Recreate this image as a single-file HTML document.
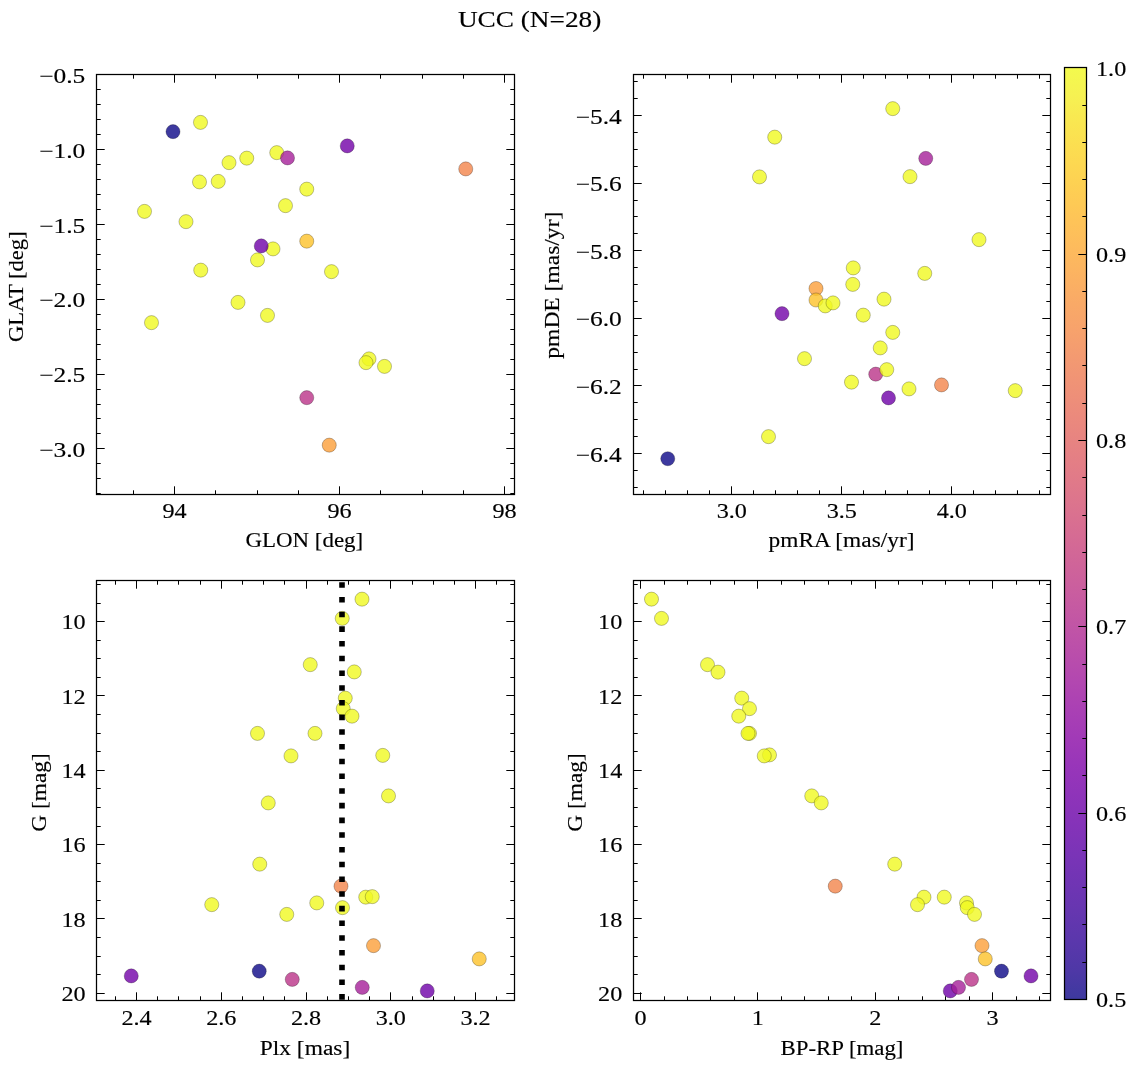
<!DOCTYPE html>
<html><head><meta charset="utf-8"><title>UCC (N=28)</title><style>html,body{margin:0;padding:0;background:#fff;overflow:hidden}svg{display:block;will-change:transform}</style></head><body>
<svg width="1136" height="1067" viewBox="0 0 1136 1067" font-family='"Liberation Serif", serif' fill="#000">
<style>text{stroke:#000;stroke-width:0.15px}</style>
<rect width="1136" height="1067" fill="#fff"/>
<g fill-opacity="0.8" stroke="#000" stroke-opacity="0.42" stroke-width="0.6">
<circle cx="200.5" cy="122.4" r="7.05" fill="#f0f921"/>
<circle cx="276.75" cy="152.65" r="7.05" fill="#f0f921"/>
<circle cx="229" cy="162.65" r="7.05" fill="#f0f921"/>
<circle cx="246.75" cy="158.15" r="7.05" fill="#f0f921"/>
<circle cx="199.5" cy="181.9" r="7.05" fill="#f0f921"/>
<circle cx="218.25" cy="181.4" r="7.05" fill="#f0f921"/>
<circle cx="306.75" cy="189.15" r="7.05" fill="#f0f921"/>
<circle cx="285.5" cy="205.65" r="7.05" fill="#f0f921"/>
<circle cx="144.5" cy="211.4" r="7.05" fill="#f0f921"/>
<circle cx="186" cy="221.65" r="7.05" fill="#f0f921"/>
<circle cx="273" cy="248.9" r="7.05" fill="#f0f921"/>
<circle cx="257.5" cy="259.9" r="7.05" fill="#f0f921"/>
<circle cx="200.75" cy="270.15" r="7.05" fill="#f0f921"/>
<circle cx="331.5" cy="271.65" r="7.05" fill="#f0f921"/>
<circle cx="238" cy="302.4" r="7.05" fill="#f0f921"/>
<circle cx="267.5" cy="315.4" r="7.05" fill="#f0f921"/>
<circle cx="151.5" cy="322.65" r="7.05" fill="#f0f921"/>
<circle cx="369" cy="358.9" r="7.05" fill="#f0f921"/>
<circle cx="366" cy="362.65" r="7.05" fill="#f0f921"/>
<circle cx="384.5" cy="366.4" r="7.05" fill="#f0f921"/>
<circle cx="173" cy="131.65" r="7.05" fill="#0d0887"/>
<circle cx="347.25" cy="145.9" r="7.05" fill="#7201a8"/>
<circle cx="261.25" cy="245.9" r="7.05" fill="#6e00a8"/>
<circle cx="465.75" cy="168.9" r="7.05" fill="#f2844b"/>
<circle cx="306.75" cy="397.65" r="7.05" fill="#ba3388"/>
<circle cx="329.25" cy="445.15" r="7.05" fill="#fb9f3a"/>
<circle cx="306.75" cy="241.15" r="7.05" fill="#fdc229"/>
<circle cx="287.5" cy="157.9" r="7.05" fill="#a51f99"/>
</g>
<g stroke="#000" stroke-linecap="butt">
<line x1="133.5" y1="494.5" x2="133.5" y2="490.3" stroke-width="1.05"/>
<line x1="133.5" y1="74.5" x2="133.5" y2="78.7" stroke-width="1.05"/>
<line x1="215.5" y1="494.5" x2="215.5" y2="490.3" stroke-width="1.05"/>
<line x1="215.5" y1="74.5" x2="215.5" y2="78.7" stroke-width="1.05"/>
<line x1="257.5" y1="494.5" x2="257.5" y2="490.3" stroke-width="1.05"/>
<line x1="257.5" y1="74.5" x2="257.5" y2="78.7" stroke-width="1.05"/>
<line x1="298.5" y1="494.5" x2="298.5" y2="490.3" stroke-width="1.05"/>
<line x1="298.5" y1="74.5" x2="298.5" y2="78.7" stroke-width="1.05"/>
<line x1="380.5" y1="494.5" x2="380.5" y2="490.3" stroke-width="1.05"/>
<line x1="380.5" y1="74.5" x2="380.5" y2="78.7" stroke-width="1.05"/>
<line x1="422.5" y1="494.5" x2="422.5" y2="490.3" stroke-width="1.05"/>
<line x1="422.5" y1="74.5" x2="422.5" y2="78.7" stroke-width="1.05"/>
<line x1="463.5" y1="494.5" x2="463.5" y2="490.3" stroke-width="1.05"/>
<line x1="463.5" y1="74.5" x2="463.5" y2="78.7" stroke-width="1.05"/>
<line x1="174.5" y1="494.5" x2="174.5" y2="486.3" stroke-width="1.05"/>
<line x1="174.5" y1="74.5" x2="174.5" y2="82.7" stroke-width="1.05"/>
<line x1="339.5" y1="494.5" x2="339.5" y2="486.3" stroke-width="1.05"/>
<line x1="339.5" y1="74.5" x2="339.5" y2="82.7" stroke-width="1.05"/>
<line x1="504.5" y1="494.5" x2="504.5" y2="486.3" stroke-width="1.05"/>
<line x1="504.5" y1="74.5" x2="504.5" y2="82.7" stroke-width="1.05"/>
<line x1="96.5" y1="493.5" x2="100.7" y2="493.5" stroke-width="1.05"/>
<line x1="514.5" y1="493.5" x2="510.3" y2="493.5" stroke-width="1.05"/>
<line x1="96.5" y1="478.5" x2="100.7" y2="478.5" stroke-width="1.05"/>
<line x1="514.5" y1="478.5" x2="510.3" y2="478.5" stroke-width="1.05"/>
<line x1="96.5" y1="463.5" x2="100.7" y2="463.5" stroke-width="1.05"/>
<line x1="514.5" y1="463.5" x2="510.3" y2="463.5" stroke-width="1.05"/>
<line x1="96.5" y1="433.5" x2="100.7" y2="433.5" stroke-width="1.05"/>
<line x1="514.5" y1="433.5" x2="510.3" y2="433.5" stroke-width="1.05"/>
<line x1="96.5" y1="418.5" x2="100.7" y2="418.5" stroke-width="1.05"/>
<line x1="514.5" y1="418.5" x2="510.3" y2="418.5" stroke-width="1.05"/>
<line x1="96.5" y1="404.5" x2="100.7" y2="404.5" stroke-width="1.05"/>
<line x1="514.5" y1="404.5" x2="510.3" y2="404.5" stroke-width="1.05"/>
<line x1="96.5" y1="389.5" x2="100.7" y2="389.5" stroke-width="1.05"/>
<line x1="514.5" y1="389.5" x2="510.3" y2="389.5" stroke-width="1.05"/>
<line x1="96.5" y1="359.5" x2="100.7" y2="359.5" stroke-width="1.05"/>
<line x1="514.5" y1="359.5" x2="510.3" y2="359.5" stroke-width="1.05"/>
<line x1="96.5" y1="344.5" x2="100.7" y2="344.5" stroke-width="1.05"/>
<line x1="514.5" y1="344.5" x2="510.3" y2="344.5" stroke-width="1.05"/>
<line x1="96.5" y1="329.5" x2="100.7" y2="329.5" stroke-width="1.05"/>
<line x1="514.5" y1="329.5" x2="510.3" y2="329.5" stroke-width="1.05"/>
<line x1="96.5" y1="314.5" x2="100.7" y2="314.5" stroke-width="1.05"/>
<line x1="514.5" y1="314.5" x2="510.3" y2="314.5" stroke-width="1.05"/>
<line x1="96.5" y1="284.5" x2="100.7" y2="284.5" stroke-width="1.05"/>
<line x1="514.5" y1="284.5" x2="510.3" y2="284.5" stroke-width="1.05"/>
<line x1="96.5" y1="269.5" x2="100.7" y2="269.5" stroke-width="1.05"/>
<line x1="514.5" y1="269.5" x2="510.3" y2="269.5" stroke-width="1.05"/>
<line x1="96.5" y1="254.5" x2="100.7" y2="254.5" stroke-width="1.05"/>
<line x1="514.5" y1="254.5" x2="510.3" y2="254.5" stroke-width="1.05"/>
<line x1="96.5" y1="239.5" x2="100.7" y2="239.5" stroke-width="1.05"/>
<line x1="514.5" y1="239.5" x2="510.3" y2="239.5" stroke-width="1.05"/>
<line x1="96.5" y1="209.5" x2="100.7" y2="209.5" stroke-width="1.05"/>
<line x1="514.5" y1="209.5" x2="510.3" y2="209.5" stroke-width="1.05"/>
<line x1="96.5" y1="194.5" x2="100.7" y2="194.5" stroke-width="1.05"/>
<line x1="514.5" y1="194.5" x2="510.3" y2="194.5" stroke-width="1.05"/>
<line x1="96.5" y1="179.5" x2="100.7" y2="179.5" stroke-width="1.05"/>
<line x1="514.5" y1="179.5" x2="510.3" y2="179.5" stroke-width="1.05"/>
<line x1="96.5" y1="164.5" x2="100.7" y2="164.5" stroke-width="1.05"/>
<line x1="514.5" y1="164.5" x2="510.3" y2="164.5" stroke-width="1.05"/>
<line x1="96.5" y1="134.5" x2="100.7" y2="134.5" stroke-width="1.05"/>
<line x1="514.5" y1="134.5" x2="510.3" y2="134.5" stroke-width="1.05"/>
<line x1="96.5" y1="119.5" x2="100.7" y2="119.5" stroke-width="1.05"/>
<line x1="514.5" y1="119.5" x2="510.3" y2="119.5" stroke-width="1.05"/>
<line x1="96.5" y1="104.5" x2="100.7" y2="104.5" stroke-width="1.05"/>
<line x1="514.5" y1="104.5" x2="510.3" y2="104.5" stroke-width="1.05"/>
<line x1="96.5" y1="89.5" x2="100.7" y2="89.5" stroke-width="1.05"/>
<line x1="514.5" y1="89.5" x2="510.3" y2="89.5" stroke-width="1.05"/>
<line x1="96.5" y1="448.5" x2="104.7" y2="448.5" stroke-width="1.05"/>
<line x1="514.5" y1="448.5" x2="506.3" y2="448.5" stroke-width="1.05"/>
<line x1="96.5" y1="374.5" x2="104.7" y2="374.5" stroke-width="1.05"/>
<line x1="514.5" y1="374.5" x2="506.3" y2="374.5" stroke-width="1.05"/>
<line x1="96.5" y1="299.5" x2="104.7" y2="299.5" stroke-width="1.05"/>
<line x1="514.5" y1="299.5" x2="506.3" y2="299.5" stroke-width="1.05"/>
<line x1="96.5" y1="224.5" x2="104.7" y2="224.5" stroke-width="1.05"/>
<line x1="514.5" y1="224.5" x2="506.3" y2="224.5" stroke-width="1.05"/>
<line x1="96.5" y1="149.5" x2="104.7" y2="149.5" stroke-width="1.05"/>
<line x1="514.5" y1="149.5" x2="506.3" y2="149.5" stroke-width="1.05"/>
<line x1="96.5" y1="74.5" x2="104.7" y2="74.5" stroke-width="1.05"/>
<line x1="514.5" y1="74.5" x2="506.3" y2="74.5" stroke-width="1.05"/>
</g>
<text x="174.6" y="517.7" text-anchor="middle" font-size="21.0" textLength="24.18" lengthAdjust="spacingAndGlyphs">94</text>
<text x="339.6" y="517.7" text-anchor="middle" font-size="21.0" textLength="24.18" lengthAdjust="spacingAndGlyphs">96</text>
<text x="504.6" y="517.7" text-anchor="middle" font-size="21.0" textLength="24.18" lengthAdjust="spacingAndGlyphs">98</text>
<text x="85.3" y="456.9" text-anchor="end" font-size="21.0" textLength="46.14" lengthAdjust="spacingAndGlyphs">−3.0</text>
<text x="85.3" y="382.1" text-anchor="end" font-size="21.0" textLength="46.14" lengthAdjust="spacingAndGlyphs">−2.5</text>
<text x="85.3" y="307.3" text-anchor="end" font-size="21.0" textLength="46.14" lengthAdjust="spacingAndGlyphs">−2.0</text>
<text x="85.3" y="232.5" text-anchor="end" font-size="21.0" textLength="46.14" lengthAdjust="spacingAndGlyphs">−1.5</text>
<text x="85.3" y="157.7" text-anchor="end" font-size="21.0" textLength="46.14" lengthAdjust="spacingAndGlyphs">−1.0</text>
<text x="85.3" y="82.9" text-anchor="end" font-size="21.0" textLength="46.14" lengthAdjust="spacingAndGlyphs">−0.5</text>
<rect x="96.5" y="74.5" width="418" height="420" fill="none" stroke="#000" stroke-width="1.25"/>
<g fill-opacity="0.8" stroke="#000" stroke-opacity="0.42" stroke-width="0.6">
<circle cx="892.75" cy="108.65" r="7.05" fill="#f0f921"/>
<circle cx="774.75" cy="137.15" r="7.05" fill="#f0f921"/>
<circle cx="759.5" cy="176.9" r="7.05" fill="#f0f921"/>
<circle cx="910" cy="176.65" r="7.05" fill="#f0f921"/>
<circle cx="979" cy="239.65" r="7.05" fill="#f0f921"/>
<circle cx="853.25" cy="267.9" r="7.05" fill="#f0f921"/>
<circle cx="924.75" cy="273.4" r="7.05" fill="#f0f921"/>
<circle cx="852.75" cy="284.4" r="7.05" fill="#f0f921"/>
<circle cx="884" cy="299.15" r="7.05" fill="#f0f921"/>
<circle cx="863.25" cy="315.15" r="7.05" fill="#f0f921"/>
<circle cx="892.75" cy="332.4" r="7.05" fill="#f0f921"/>
<circle cx="880.25" cy="347.9" r="7.05" fill="#f0f921"/>
<circle cx="804.5" cy="358.65" r="7.05" fill="#f0f921"/>
<circle cx="851.5" cy="382.15" r="7.05" fill="#f0f921"/>
<circle cx="909" cy="388.9" r="7.05" fill="#f0f921"/>
<circle cx="1015.25" cy="390.65" r="7.05" fill="#f0f921"/>
<circle cx="768.5" cy="436.65" r="7.05" fill="#f0f921"/>
<circle cx="816" cy="288.5" r="7.05" fill="#fb9f3a"/>
<circle cx="782" cy="313.65" r="7.05" fill="#7201a8"/>
<circle cx="875.75" cy="374.15" r="7.05" fill="#ba3388"/>
<circle cx="941.5" cy="384.9" r="7.05" fill="#f2844b"/>
<circle cx="888.5" cy="397.9" r="7.05" fill="#6e00a8"/>
<circle cx="667.75" cy="458.7" r="7.05" fill="#0d0887"/>
<circle cx="816" cy="300" r="7.05" fill="#fdc229"/>
<circle cx="925.75" cy="158.4" r="7.05" fill="#a51f99"/>
<circle cx="825.25" cy="305.9" r="7.05" fill="#f0f921"/>
<circle cx="886.75" cy="369.65" r="7.05" fill="#f0f921"/>
<circle cx="833" cy="302.9" r="7.05" fill="#f0f921"/>
</g>
<g stroke="#000" stroke-linecap="butt">
<line x1="643.5" y1="494.5" x2="643.5" y2="490.3" stroke-width="1.05"/>
<line x1="643.5" y1="74.5" x2="643.5" y2="78.7" stroke-width="1.05"/>
<line x1="665.5" y1="494.5" x2="665.5" y2="490.3" stroke-width="1.05"/>
<line x1="665.5" y1="74.5" x2="665.5" y2="78.7" stroke-width="1.05"/>
<line x1="687.5" y1="494.5" x2="687.5" y2="490.3" stroke-width="1.05"/>
<line x1="687.5" y1="74.5" x2="687.5" y2="78.7" stroke-width="1.05"/>
<line x1="709.5" y1="494.5" x2="709.5" y2="490.3" stroke-width="1.05"/>
<line x1="709.5" y1="74.5" x2="709.5" y2="78.7" stroke-width="1.05"/>
<line x1="753.5" y1="494.5" x2="753.5" y2="490.3" stroke-width="1.05"/>
<line x1="753.5" y1="74.5" x2="753.5" y2="78.7" stroke-width="1.05"/>
<line x1="775.5" y1="494.5" x2="775.5" y2="490.3" stroke-width="1.05"/>
<line x1="775.5" y1="74.5" x2="775.5" y2="78.7" stroke-width="1.05"/>
<line x1="797.5" y1="494.5" x2="797.5" y2="490.3" stroke-width="1.05"/>
<line x1="797.5" y1="74.5" x2="797.5" y2="78.7" stroke-width="1.05"/>
<line x1="819.5" y1="494.5" x2="819.5" y2="490.3" stroke-width="1.05"/>
<line x1="819.5" y1="74.5" x2="819.5" y2="78.7" stroke-width="1.05"/>
<line x1="863.5" y1="494.5" x2="863.5" y2="490.3" stroke-width="1.05"/>
<line x1="863.5" y1="74.5" x2="863.5" y2="78.7" stroke-width="1.05"/>
<line x1="885.5" y1="494.5" x2="885.5" y2="490.3" stroke-width="1.05"/>
<line x1="885.5" y1="74.5" x2="885.5" y2="78.7" stroke-width="1.05"/>
<line x1="907.5" y1="494.5" x2="907.5" y2="490.3" stroke-width="1.05"/>
<line x1="907.5" y1="74.5" x2="907.5" y2="78.7" stroke-width="1.05"/>
<line x1="929.5" y1="494.5" x2="929.5" y2="490.3" stroke-width="1.05"/>
<line x1="929.5" y1="74.5" x2="929.5" y2="78.7" stroke-width="1.05"/>
<line x1="973.5" y1="494.5" x2="973.5" y2="490.3" stroke-width="1.05"/>
<line x1="973.5" y1="74.5" x2="973.5" y2="78.7" stroke-width="1.05"/>
<line x1="995.5" y1="494.5" x2="995.5" y2="490.3" stroke-width="1.05"/>
<line x1="995.5" y1="74.5" x2="995.5" y2="78.7" stroke-width="1.05"/>
<line x1="1017.5" y1="494.5" x2="1017.5" y2="490.3" stroke-width="1.05"/>
<line x1="1017.5" y1="74.5" x2="1017.5" y2="78.7" stroke-width="1.05"/>
<line x1="1039.5" y1="494.5" x2="1039.5" y2="490.3" stroke-width="1.05"/>
<line x1="1039.5" y1="74.5" x2="1039.5" y2="78.7" stroke-width="1.05"/>
<line x1="731.5" y1="494.5" x2="731.5" y2="486.3" stroke-width="1.05"/>
<line x1="731.5" y1="74.5" x2="731.5" y2="82.7" stroke-width="1.05"/>
<line x1="841.5" y1="494.5" x2="841.5" y2="486.3" stroke-width="1.05"/>
<line x1="841.5" y1="74.5" x2="841.5" y2="82.7" stroke-width="1.05"/>
<line x1="951.5" y1="494.5" x2="951.5" y2="486.3" stroke-width="1.05"/>
<line x1="951.5" y1="74.5" x2="951.5" y2="82.7" stroke-width="1.05"/>
<line x1="633.5" y1="487.5" x2="637.7" y2="487.5" stroke-width="1.05"/>
<line x1="1050.5" y1="487.5" x2="1046.3" y2="487.5" stroke-width="1.05"/>
<line x1="633.5" y1="470.5" x2="637.7" y2="470.5" stroke-width="1.05"/>
<line x1="1050.5" y1="470.5" x2="1046.3" y2="470.5" stroke-width="1.05"/>
<line x1="633.5" y1="436.5" x2="637.7" y2="436.5" stroke-width="1.05"/>
<line x1="1050.5" y1="436.5" x2="1046.3" y2="436.5" stroke-width="1.05"/>
<line x1="633.5" y1="419.5" x2="637.7" y2="419.5" stroke-width="1.05"/>
<line x1="1050.5" y1="419.5" x2="1046.3" y2="419.5" stroke-width="1.05"/>
<line x1="633.5" y1="402.5" x2="637.7" y2="402.5" stroke-width="1.05"/>
<line x1="1050.5" y1="402.5" x2="1046.3" y2="402.5" stroke-width="1.05"/>
<line x1="633.5" y1="369.5" x2="637.7" y2="369.5" stroke-width="1.05"/>
<line x1="1050.5" y1="369.5" x2="1046.3" y2="369.5" stroke-width="1.05"/>
<line x1="633.5" y1="352.5" x2="637.7" y2="352.5" stroke-width="1.05"/>
<line x1="1050.5" y1="352.5" x2="1046.3" y2="352.5" stroke-width="1.05"/>
<line x1="633.5" y1="335.5" x2="637.7" y2="335.5" stroke-width="1.05"/>
<line x1="1050.5" y1="335.5" x2="1046.3" y2="335.5" stroke-width="1.05"/>
<line x1="633.5" y1="301.5" x2="637.7" y2="301.5" stroke-width="1.05"/>
<line x1="1050.5" y1="301.5" x2="1046.3" y2="301.5" stroke-width="1.05"/>
<line x1="633.5" y1="284.5" x2="637.7" y2="284.5" stroke-width="1.05"/>
<line x1="1050.5" y1="284.5" x2="1046.3" y2="284.5" stroke-width="1.05"/>
<line x1="633.5" y1="267.5" x2="637.7" y2="267.5" stroke-width="1.05"/>
<line x1="1050.5" y1="267.5" x2="1046.3" y2="267.5" stroke-width="1.05"/>
<line x1="633.5" y1="233.5" x2="637.7" y2="233.5" stroke-width="1.05"/>
<line x1="1050.5" y1="233.5" x2="1046.3" y2="233.5" stroke-width="1.05"/>
<line x1="633.5" y1="216.5" x2="637.7" y2="216.5" stroke-width="1.05"/>
<line x1="1050.5" y1="216.5" x2="1046.3" y2="216.5" stroke-width="1.05"/>
<line x1="633.5" y1="200.5" x2="637.7" y2="200.5" stroke-width="1.05"/>
<line x1="1050.5" y1="200.5" x2="1046.3" y2="200.5" stroke-width="1.05"/>
<line x1="633.5" y1="166.5" x2="637.7" y2="166.5" stroke-width="1.05"/>
<line x1="1050.5" y1="166.5" x2="1046.3" y2="166.5" stroke-width="1.05"/>
<line x1="633.5" y1="149.5" x2="637.7" y2="149.5" stroke-width="1.05"/>
<line x1="1050.5" y1="149.5" x2="1046.3" y2="149.5" stroke-width="1.05"/>
<line x1="633.5" y1="132.5" x2="637.7" y2="132.5" stroke-width="1.05"/>
<line x1="1050.5" y1="132.5" x2="1046.3" y2="132.5" stroke-width="1.05"/>
<line x1="633.5" y1="98.5" x2="637.7" y2="98.5" stroke-width="1.05"/>
<line x1="1050.5" y1="98.5" x2="1046.3" y2="98.5" stroke-width="1.05"/>
<line x1="633.5" y1="81.5" x2="637.7" y2="81.5" stroke-width="1.05"/>
<line x1="1050.5" y1="81.5" x2="1046.3" y2="81.5" stroke-width="1.05"/>
<line x1="633.5" y1="453.5" x2="641.7" y2="453.5" stroke-width="1.05"/>
<line x1="1050.5" y1="453.5" x2="1042.3" y2="453.5" stroke-width="1.05"/>
<line x1="633.5" y1="385.5" x2="641.7" y2="385.5" stroke-width="1.05"/>
<line x1="1050.5" y1="385.5" x2="1042.3" y2="385.5" stroke-width="1.05"/>
<line x1="633.5" y1="318.5" x2="641.7" y2="318.5" stroke-width="1.05"/>
<line x1="1050.5" y1="318.5" x2="1042.3" y2="318.5" stroke-width="1.05"/>
<line x1="633.5" y1="250.5" x2="641.7" y2="250.5" stroke-width="1.05"/>
<line x1="1050.5" y1="250.5" x2="1042.3" y2="250.5" stroke-width="1.05"/>
<line x1="633.5" y1="183.5" x2="641.7" y2="183.5" stroke-width="1.05"/>
<line x1="1050.5" y1="183.5" x2="1042.3" y2="183.5" stroke-width="1.05"/>
<line x1="633.5" y1="115.5" x2="641.7" y2="115.5" stroke-width="1.05"/>
<line x1="1050.5" y1="115.5" x2="1042.3" y2="115.5" stroke-width="1.05"/>
</g>
<text x="731.8" y="518" text-anchor="middle" font-size="21.0" textLength="30.22" lengthAdjust="spacingAndGlyphs">3.0</text>
<text x="841.8" y="518" text-anchor="middle" font-size="21.0" textLength="30.22" lengthAdjust="spacingAndGlyphs">3.5</text>
<text x="951.8" y="518" text-anchor="middle" font-size="21.0" textLength="30.22" lengthAdjust="spacingAndGlyphs">4.0</text>
<text x="621.8" y="461.5" text-anchor="end" font-size="21.0" textLength="46.14" lengthAdjust="spacingAndGlyphs">−6.4</text>
<text x="621.8" y="393.9" text-anchor="end" font-size="21.0" textLength="46.14" lengthAdjust="spacingAndGlyphs">−6.2</text>
<text x="621.8" y="326.3" text-anchor="end" font-size="21.0" textLength="46.14" lengthAdjust="spacingAndGlyphs">−6.0</text>
<text x="621.8" y="258.7" text-anchor="end" font-size="21.0" textLength="46.14" lengthAdjust="spacingAndGlyphs">−5.8</text>
<text x="621.8" y="191.1" text-anchor="end" font-size="21.0" textLength="46.14" lengthAdjust="spacingAndGlyphs">−5.6</text>
<text x="621.8" y="123.5" text-anchor="end" font-size="21.0" textLength="46.14" lengthAdjust="spacingAndGlyphs">−5.4</text>
<rect x="633.5" y="74.5" width="417" height="420" fill="none" stroke="#000" stroke-width="1.25"/>
<g fill-opacity="0.8" stroke="#000" stroke-opacity="0.42" stroke-width="0.6">
<circle cx="362" cy="599.15" r="7.05" fill="#f0f921"/>
<circle cx="342.25" cy="618.4" r="7.05" fill="#f0f921"/>
<circle cx="310.25" cy="664.65" r="7.05" fill="#f0f921"/>
<circle cx="354.25" cy="671.9" r="7.05" fill="#f0f921"/>
<circle cx="345.25" cy="698.15" r="7.05" fill="#f0f921"/>
<circle cx="343.25" cy="708.65" r="7.05" fill="#f0f921"/>
<circle cx="352" cy="716.15" r="7.05" fill="#f0f921"/>
<circle cx="257.5" cy="733.4" r="7.05" fill="#f0f921"/>
<circle cx="315" cy="733.4" r="7.05" fill="#f0f921"/>
<circle cx="291" cy="755.9" r="7.05" fill="#f0f921"/>
<circle cx="382.75" cy="755.4" r="7.05" fill="#f0f921"/>
<circle cx="268.25" cy="802.9" r="7.05" fill="#f0f921"/>
<circle cx="388.5" cy="795.9" r="7.05" fill="#f0f921"/>
<circle cx="259.75" cy="864.15" r="7.05" fill="#f0f921"/>
<circle cx="211.75" cy="904.65" r="7.05" fill="#f0f921"/>
<circle cx="286.75" cy="914.4" r="7.05" fill="#f0f921"/>
<circle cx="316.75" cy="902.9" r="7.05" fill="#f0f921"/>
<circle cx="342.5" cy="907.65" r="7.05" fill="#f0f921"/>
<circle cx="365.75" cy="897.15" r="7.05" fill="#f0f921"/>
<circle cx="372.25" cy="896.65" r="7.05" fill="#f0f921"/>
<circle cx="341" cy="886.15" r="7.05" fill="#f2844b"/>
<circle cx="373.5" cy="945.65" r="7.05" fill="#fb9f3a"/>
<circle cx="131.25" cy="975.9" r="7.05" fill="#7201a8"/>
<circle cx="259.25" cy="971.15" r="7.05" fill="#0d0887"/>
<circle cx="292.25" cy="979.4" r="7.05" fill="#ba3388"/>
<circle cx="427.25" cy="990.9" r="7.05" fill="#6e00a8"/>
<circle cx="479.25" cy="958.9" r="7.05" fill="#fdc229"/>
<circle cx="362.25" cy="987.4" r="7.05" fill="#a51f99"/>
</g>
<line x1="342" y1="999.65" x2="342" y2="580.5" stroke="#000" stroke-width="5.6" stroke-dasharray="5.55 9.16"/>
<g stroke="#000" stroke-linecap="butt">
<line x1="115.5" y1="1000.5" x2="115.5" y2="996.3" stroke-width="1.05"/>
<line x1="115.5" y1="580.5" x2="115.5" y2="584.7" stroke-width="1.05"/>
<line x1="157.5" y1="1000.5" x2="157.5" y2="996.3" stroke-width="1.05"/>
<line x1="157.5" y1="580.5" x2="157.5" y2="584.7" stroke-width="1.05"/>
<line x1="178.5" y1="1000.5" x2="178.5" y2="996.3" stroke-width="1.05"/>
<line x1="178.5" y1="580.5" x2="178.5" y2="584.7" stroke-width="1.05"/>
<line x1="200.5" y1="1000.5" x2="200.5" y2="996.3" stroke-width="1.05"/>
<line x1="200.5" y1="580.5" x2="200.5" y2="584.7" stroke-width="1.05"/>
<line x1="242.5" y1="1000.5" x2="242.5" y2="996.3" stroke-width="1.05"/>
<line x1="242.5" y1="580.5" x2="242.5" y2="584.7" stroke-width="1.05"/>
<line x1="263.5" y1="1000.5" x2="263.5" y2="996.3" stroke-width="1.05"/>
<line x1="263.5" y1="580.5" x2="263.5" y2="584.7" stroke-width="1.05"/>
<line x1="284.5" y1="1000.5" x2="284.5" y2="996.3" stroke-width="1.05"/>
<line x1="284.5" y1="580.5" x2="284.5" y2="584.7" stroke-width="1.05"/>
<line x1="327.5" y1="1000.5" x2="327.5" y2="996.3" stroke-width="1.05"/>
<line x1="327.5" y1="580.5" x2="327.5" y2="584.7" stroke-width="1.05"/>
<line x1="348.5" y1="1000.5" x2="348.5" y2="996.3" stroke-width="1.05"/>
<line x1="348.5" y1="580.5" x2="348.5" y2="584.7" stroke-width="1.05"/>
<line x1="369.5" y1="1000.5" x2="369.5" y2="996.3" stroke-width="1.05"/>
<line x1="369.5" y1="580.5" x2="369.5" y2="584.7" stroke-width="1.05"/>
<line x1="412.5" y1="1000.5" x2="412.5" y2="996.3" stroke-width="1.05"/>
<line x1="412.5" y1="580.5" x2="412.5" y2="584.7" stroke-width="1.05"/>
<line x1="433.5" y1="1000.5" x2="433.5" y2="996.3" stroke-width="1.05"/>
<line x1="433.5" y1="580.5" x2="433.5" y2="584.7" stroke-width="1.05"/>
<line x1="454.5" y1="1000.5" x2="454.5" y2="996.3" stroke-width="1.05"/>
<line x1="454.5" y1="580.5" x2="454.5" y2="584.7" stroke-width="1.05"/>
<line x1="496.5" y1="1000.5" x2="496.5" y2="996.3" stroke-width="1.05"/>
<line x1="496.5" y1="580.5" x2="496.5" y2="584.7" stroke-width="1.05"/>
<line x1="136.5" y1="1000.5" x2="136.5" y2="992.3" stroke-width="1.05"/>
<line x1="136.5" y1="580.5" x2="136.5" y2="588.7" stroke-width="1.05"/>
<line x1="221.5" y1="1000.5" x2="221.5" y2="992.3" stroke-width="1.05"/>
<line x1="221.5" y1="580.5" x2="221.5" y2="588.7" stroke-width="1.05"/>
<line x1="306.5" y1="1000.5" x2="306.5" y2="992.3" stroke-width="1.05"/>
<line x1="306.5" y1="580.5" x2="306.5" y2="588.7" stroke-width="1.05"/>
<line x1="390.5" y1="1000.5" x2="390.5" y2="992.3" stroke-width="1.05"/>
<line x1="390.5" y1="580.5" x2="390.5" y2="588.7" stroke-width="1.05"/>
<line x1="475.5" y1="1000.5" x2="475.5" y2="992.3" stroke-width="1.05"/>
<line x1="475.5" y1="580.5" x2="475.5" y2="588.7" stroke-width="1.05"/>
<line x1="96.5" y1="584.5" x2="100.7" y2="584.5" stroke-width="1.05"/>
<line x1="514.5" y1="584.5" x2="510.3" y2="584.5" stroke-width="1.05"/>
<line x1="96.5" y1="603.5" x2="100.7" y2="603.5" stroke-width="1.05"/>
<line x1="514.5" y1="603.5" x2="510.3" y2="603.5" stroke-width="1.05"/>
<line x1="96.5" y1="640.5" x2="100.7" y2="640.5" stroke-width="1.05"/>
<line x1="514.5" y1="640.5" x2="510.3" y2="640.5" stroke-width="1.05"/>
<line x1="96.5" y1="658.5" x2="100.7" y2="658.5" stroke-width="1.05"/>
<line x1="514.5" y1="658.5" x2="510.3" y2="658.5" stroke-width="1.05"/>
<line x1="96.5" y1="677.5" x2="100.7" y2="677.5" stroke-width="1.05"/>
<line x1="514.5" y1="677.5" x2="510.3" y2="677.5" stroke-width="1.05"/>
<line x1="96.5" y1="714.5" x2="100.7" y2="714.5" stroke-width="1.05"/>
<line x1="514.5" y1="714.5" x2="510.3" y2="714.5" stroke-width="1.05"/>
<line x1="96.5" y1="733.5" x2="100.7" y2="733.5" stroke-width="1.05"/>
<line x1="514.5" y1="733.5" x2="510.3" y2="733.5" stroke-width="1.05"/>
<line x1="96.5" y1="751.5" x2="100.7" y2="751.5" stroke-width="1.05"/>
<line x1="514.5" y1="751.5" x2="510.3" y2="751.5" stroke-width="1.05"/>
<line x1="96.5" y1="788.5" x2="100.7" y2="788.5" stroke-width="1.05"/>
<line x1="514.5" y1="788.5" x2="510.3" y2="788.5" stroke-width="1.05"/>
<line x1="96.5" y1="807.5" x2="100.7" y2="807.5" stroke-width="1.05"/>
<line x1="514.5" y1="807.5" x2="510.3" y2="807.5" stroke-width="1.05"/>
<line x1="96.5" y1="826.5" x2="100.7" y2="826.5" stroke-width="1.05"/>
<line x1="514.5" y1="826.5" x2="510.3" y2="826.5" stroke-width="1.05"/>
<line x1="96.5" y1="863.5" x2="100.7" y2="863.5" stroke-width="1.05"/>
<line x1="514.5" y1="863.5" x2="510.3" y2="863.5" stroke-width="1.05"/>
<line x1="96.5" y1="881.5" x2="100.7" y2="881.5" stroke-width="1.05"/>
<line x1="514.5" y1="881.5" x2="510.3" y2="881.5" stroke-width="1.05"/>
<line x1="96.5" y1="900.5" x2="100.7" y2="900.5" stroke-width="1.05"/>
<line x1="514.5" y1="900.5" x2="510.3" y2="900.5" stroke-width="1.05"/>
<line x1="96.5" y1="937.5" x2="100.7" y2="937.5" stroke-width="1.05"/>
<line x1="514.5" y1="937.5" x2="510.3" y2="937.5" stroke-width="1.05"/>
<line x1="96.5" y1="956.5" x2="100.7" y2="956.5" stroke-width="1.05"/>
<line x1="514.5" y1="956.5" x2="510.3" y2="956.5" stroke-width="1.05"/>
<line x1="96.5" y1="974.5" x2="100.7" y2="974.5" stroke-width="1.05"/>
<line x1="514.5" y1="974.5" x2="510.3" y2="974.5" stroke-width="1.05"/>
<line x1="96.5" y1="621.5" x2="104.7" y2="621.5" stroke-width="1.05"/>
<line x1="514.5" y1="621.5" x2="506.3" y2="621.5" stroke-width="1.05"/>
<line x1="96.5" y1="695.5" x2="104.7" y2="695.5" stroke-width="1.05"/>
<line x1="514.5" y1="695.5" x2="506.3" y2="695.5" stroke-width="1.05"/>
<line x1="96.5" y1="770.5" x2="104.7" y2="770.5" stroke-width="1.05"/>
<line x1="514.5" y1="770.5" x2="506.3" y2="770.5" stroke-width="1.05"/>
<line x1="96.5" y1="844.5" x2="104.7" y2="844.5" stroke-width="1.05"/>
<line x1="514.5" y1="844.5" x2="506.3" y2="844.5" stroke-width="1.05"/>
<line x1="96.5" y1="918.5" x2="104.7" y2="918.5" stroke-width="1.05"/>
<line x1="514.5" y1="918.5" x2="506.3" y2="918.5" stroke-width="1.05"/>
<line x1="96.5" y1="993.5" x2="104.7" y2="993.5" stroke-width="1.05"/>
<line x1="514.5" y1="993.5" x2="506.3" y2="993.5" stroke-width="1.05"/>
</g>
<text x="136.6" y="1024.8" text-anchor="middle" font-size="21.0" textLength="30.22" lengthAdjust="spacingAndGlyphs">2.4</text>
<text x="221.35" y="1024.8" text-anchor="middle" font-size="21.0" textLength="30.22" lengthAdjust="spacingAndGlyphs">2.6</text>
<text x="306.1" y="1024.8" text-anchor="middle" font-size="21.0" textLength="30.22" lengthAdjust="spacingAndGlyphs">2.8</text>
<text x="390.85" y="1024.8" text-anchor="middle" font-size="21.0" textLength="30.22" lengthAdjust="spacingAndGlyphs">3.0</text>
<text x="475.6" y="1024.8" text-anchor="middle" font-size="21.0" textLength="30.22" lengthAdjust="spacingAndGlyphs">3.2</text>
<text x="85.7" y="629.2" text-anchor="end" font-size="21.0" textLength="24.18" lengthAdjust="spacingAndGlyphs">10</text>
<text x="85.7" y="703.54" text-anchor="end" font-size="21.0" textLength="24.18" lengthAdjust="spacingAndGlyphs">12</text>
<text x="85.7" y="777.88" text-anchor="end" font-size="21.0" textLength="24.18" lengthAdjust="spacingAndGlyphs">14</text>
<text x="85.7" y="852.22" text-anchor="end" font-size="21.0" textLength="24.18" lengthAdjust="spacingAndGlyphs">16</text>
<text x="85.7" y="926.56" text-anchor="end" font-size="21.0" textLength="24.18" lengthAdjust="spacingAndGlyphs">18</text>
<text x="85.7" y="1000.9" text-anchor="end" font-size="21.0" textLength="24.18" lengthAdjust="spacingAndGlyphs">20</text>
<rect x="96.5" y="580.5" width="418" height="420" fill="none" stroke="#000" stroke-width="1.25"/>
<g fill-opacity="0.8" stroke="#000" stroke-opacity="0.42" stroke-width="0.6">
<circle cx="651.5" cy="599.15" r="7.05" fill="#f0f921"/>
<circle cx="661.5" cy="618.4" r="7.05" fill="#f0f921"/>
<circle cx="707.5" cy="664.65" r="7.05" fill="#f0f921"/>
<circle cx="718" cy="672.15" r="7.05" fill="#f0f921"/>
<circle cx="741.75" cy="698.15" r="7.05" fill="#f0f921"/>
<circle cx="749.5" cy="708.65" r="7.05" fill="#f0f921"/>
<circle cx="738.75" cy="716.15" r="7.05" fill="#f0f921"/>
<circle cx="749.5" cy="733.4" r="7.05" fill="#f0f921"/>
<circle cx="748" cy="733.4" r="7.05" fill="#f0f921"/>
<circle cx="769.5" cy="754.9" r="7.05" fill="#f0f921"/>
<circle cx="764.25" cy="755.9" r="7.05" fill="#f0f921"/>
<circle cx="811.75" cy="795.9" r="7.05" fill="#f0f921"/>
<circle cx="821.25" cy="802.9" r="7.05" fill="#f0f921"/>
<circle cx="894.75" cy="864.15" r="7.05" fill="#f0f921"/>
<circle cx="924" cy="897.15" r="7.05" fill="#f0f921"/>
<circle cx="917.5" cy="904.65" r="7.05" fill="#f0f921"/>
<circle cx="944.25" cy="897.15" r="7.05" fill="#f0f921"/>
<circle cx="966.5" cy="902.9" r="7.05" fill="#f0f921"/>
<circle cx="967.25" cy="907.65" r="7.05" fill="#f0f921"/>
<circle cx="974.5" cy="914.4" r="7.05" fill="#f0f921"/>
<circle cx="835.25" cy="886.15" r="7.05" fill="#f2844b"/>
<circle cx="982" cy="945.65" r="7.05" fill="#fb9f3a"/>
<circle cx="1001.5" cy="971.15" r="7.05" fill="#0d0887"/>
<circle cx="1031" cy="975.9" r="7.05" fill="#7201a8"/>
<circle cx="971.5" cy="979.4" r="7.05" fill="#ba3388"/>
<circle cx="950.25" cy="990.9" r="7.05" fill="#6e00a8"/>
<circle cx="985.25" cy="958.9" r="7.05" fill="#fdc229"/>
<circle cx="958.5" cy="987.4" r="7.05" fill="#a51f99"/>
</g>
<g stroke="#000" stroke-linecap="butt">
<line x1="664.5" y1="1000.5" x2="664.5" y2="996.3" stroke-width="1.05"/>
<line x1="664.5" y1="580.5" x2="664.5" y2="584.7" stroke-width="1.05"/>
<line x1="687.5" y1="1000.5" x2="687.5" y2="996.3" stroke-width="1.05"/>
<line x1="687.5" y1="580.5" x2="687.5" y2="584.7" stroke-width="1.05"/>
<line x1="710.5" y1="1000.5" x2="710.5" y2="996.3" stroke-width="1.05"/>
<line x1="710.5" y1="580.5" x2="710.5" y2="584.7" stroke-width="1.05"/>
<line x1="734.5" y1="1000.5" x2="734.5" y2="996.3" stroke-width="1.05"/>
<line x1="734.5" y1="580.5" x2="734.5" y2="584.7" stroke-width="1.05"/>
<line x1="781.5" y1="1000.5" x2="781.5" y2="996.3" stroke-width="1.05"/>
<line x1="781.5" y1="580.5" x2="781.5" y2="584.7" stroke-width="1.05"/>
<line x1="804.5" y1="1000.5" x2="804.5" y2="996.3" stroke-width="1.05"/>
<line x1="804.5" y1="580.5" x2="804.5" y2="584.7" stroke-width="1.05"/>
<line x1="828.5" y1="1000.5" x2="828.5" y2="996.3" stroke-width="1.05"/>
<line x1="828.5" y1="580.5" x2="828.5" y2="584.7" stroke-width="1.05"/>
<line x1="851.5" y1="1000.5" x2="851.5" y2="996.3" stroke-width="1.05"/>
<line x1="851.5" y1="580.5" x2="851.5" y2="584.7" stroke-width="1.05"/>
<line x1="898.5" y1="1000.5" x2="898.5" y2="996.3" stroke-width="1.05"/>
<line x1="898.5" y1="580.5" x2="898.5" y2="584.7" stroke-width="1.05"/>
<line x1="922.5" y1="1000.5" x2="922.5" y2="996.3" stroke-width="1.05"/>
<line x1="922.5" y1="580.5" x2="922.5" y2="584.7" stroke-width="1.05"/>
<line x1="945.5" y1="1000.5" x2="945.5" y2="996.3" stroke-width="1.05"/>
<line x1="945.5" y1="580.5" x2="945.5" y2="584.7" stroke-width="1.05"/>
<line x1="969.5" y1="1000.5" x2="969.5" y2="996.3" stroke-width="1.05"/>
<line x1="969.5" y1="580.5" x2="969.5" y2="584.7" stroke-width="1.05"/>
<line x1="1016.5" y1="1000.5" x2="1016.5" y2="996.3" stroke-width="1.05"/>
<line x1="1016.5" y1="580.5" x2="1016.5" y2="584.7" stroke-width="1.05"/>
<line x1="1039.5" y1="1000.5" x2="1039.5" y2="996.3" stroke-width="1.05"/>
<line x1="1039.5" y1="580.5" x2="1039.5" y2="584.7" stroke-width="1.05"/>
<line x1="640.5" y1="1000.5" x2="640.5" y2="992.3" stroke-width="1.05"/>
<line x1="640.5" y1="580.5" x2="640.5" y2="588.7" stroke-width="1.05"/>
<line x1="757.5" y1="1000.5" x2="757.5" y2="992.3" stroke-width="1.05"/>
<line x1="757.5" y1="580.5" x2="757.5" y2="588.7" stroke-width="1.05"/>
<line x1="875.5" y1="1000.5" x2="875.5" y2="992.3" stroke-width="1.05"/>
<line x1="875.5" y1="580.5" x2="875.5" y2="588.7" stroke-width="1.05"/>
<line x1="992.5" y1="1000.5" x2="992.5" y2="992.3" stroke-width="1.05"/>
<line x1="992.5" y1="580.5" x2="992.5" y2="588.7" stroke-width="1.05"/>
<line x1="633.5" y1="584.5" x2="637.7" y2="584.5" stroke-width="1.05"/>
<line x1="1050.5" y1="584.5" x2="1046.3" y2="584.5" stroke-width="1.05"/>
<line x1="633.5" y1="603.5" x2="637.7" y2="603.5" stroke-width="1.05"/>
<line x1="1050.5" y1="603.5" x2="1046.3" y2="603.5" stroke-width="1.05"/>
<line x1="633.5" y1="640.5" x2="637.7" y2="640.5" stroke-width="1.05"/>
<line x1="1050.5" y1="640.5" x2="1046.3" y2="640.5" stroke-width="1.05"/>
<line x1="633.5" y1="658.5" x2="637.7" y2="658.5" stroke-width="1.05"/>
<line x1="1050.5" y1="658.5" x2="1046.3" y2="658.5" stroke-width="1.05"/>
<line x1="633.5" y1="677.5" x2="637.7" y2="677.5" stroke-width="1.05"/>
<line x1="1050.5" y1="677.5" x2="1046.3" y2="677.5" stroke-width="1.05"/>
<line x1="633.5" y1="714.5" x2="637.7" y2="714.5" stroke-width="1.05"/>
<line x1="1050.5" y1="714.5" x2="1046.3" y2="714.5" stroke-width="1.05"/>
<line x1="633.5" y1="733.5" x2="637.7" y2="733.5" stroke-width="1.05"/>
<line x1="1050.5" y1="733.5" x2="1046.3" y2="733.5" stroke-width="1.05"/>
<line x1="633.5" y1="751.5" x2="637.7" y2="751.5" stroke-width="1.05"/>
<line x1="1050.5" y1="751.5" x2="1046.3" y2="751.5" stroke-width="1.05"/>
<line x1="633.5" y1="788.5" x2="637.7" y2="788.5" stroke-width="1.05"/>
<line x1="1050.5" y1="788.5" x2="1046.3" y2="788.5" stroke-width="1.05"/>
<line x1="633.5" y1="807.5" x2="637.7" y2="807.5" stroke-width="1.05"/>
<line x1="1050.5" y1="807.5" x2="1046.3" y2="807.5" stroke-width="1.05"/>
<line x1="633.5" y1="826.5" x2="637.7" y2="826.5" stroke-width="1.05"/>
<line x1="1050.5" y1="826.5" x2="1046.3" y2="826.5" stroke-width="1.05"/>
<line x1="633.5" y1="863.5" x2="637.7" y2="863.5" stroke-width="1.05"/>
<line x1="1050.5" y1="863.5" x2="1046.3" y2="863.5" stroke-width="1.05"/>
<line x1="633.5" y1="881.5" x2="637.7" y2="881.5" stroke-width="1.05"/>
<line x1="1050.5" y1="881.5" x2="1046.3" y2="881.5" stroke-width="1.05"/>
<line x1="633.5" y1="900.5" x2="637.7" y2="900.5" stroke-width="1.05"/>
<line x1="1050.5" y1="900.5" x2="1046.3" y2="900.5" stroke-width="1.05"/>
<line x1="633.5" y1="937.5" x2="637.7" y2="937.5" stroke-width="1.05"/>
<line x1="1050.5" y1="937.5" x2="1046.3" y2="937.5" stroke-width="1.05"/>
<line x1="633.5" y1="956.5" x2="637.7" y2="956.5" stroke-width="1.05"/>
<line x1="1050.5" y1="956.5" x2="1046.3" y2="956.5" stroke-width="1.05"/>
<line x1="633.5" y1="974.5" x2="637.7" y2="974.5" stroke-width="1.05"/>
<line x1="1050.5" y1="974.5" x2="1046.3" y2="974.5" stroke-width="1.05"/>
<line x1="633.5" y1="621.5" x2="641.7" y2="621.5" stroke-width="1.05"/>
<line x1="1050.5" y1="621.5" x2="1042.3" y2="621.5" stroke-width="1.05"/>
<line x1="633.5" y1="695.5" x2="641.7" y2="695.5" stroke-width="1.05"/>
<line x1="1050.5" y1="695.5" x2="1042.3" y2="695.5" stroke-width="1.05"/>
<line x1="633.5" y1="770.5" x2="641.7" y2="770.5" stroke-width="1.05"/>
<line x1="1050.5" y1="770.5" x2="1042.3" y2="770.5" stroke-width="1.05"/>
<line x1="633.5" y1="844.5" x2="641.7" y2="844.5" stroke-width="1.05"/>
<line x1="1050.5" y1="844.5" x2="1042.3" y2="844.5" stroke-width="1.05"/>
<line x1="633.5" y1="918.5" x2="641.7" y2="918.5" stroke-width="1.05"/>
<line x1="1050.5" y1="918.5" x2="1042.3" y2="918.5" stroke-width="1.05"/>
<line x1="633.5" y1="993.5" x2="641.7" y2="993.5" stroke-width="1.05"/>
<line x1="1050.5" y1="993.5" x2="1042.3" y2="993.5" stroke-width="1.05"/>
</g>
<text x="640.6" y="1024.8" text-anchor="middle" font-size="21.0" textLength="12.09" lengthAdjust="spacingAndGlyphs">0</text>
<text x="757.93" y="1024.8" text-anchor="middle" font-size="21.0" textLength="12.09" lengthAdjust="spacingAndGlyphs">1</text>
<text x="875.26" y="1024.8" text-anchor="middle" font-size="21.0" textLength="12.09" lengthAdjust="spacingAndGlyphs">2</text>
<text x="992.59" y="1024.8" text-anchor="middle" font-size="21.0" textLength="12.09" lengthAdjust="spacingAndGlyphs">3</text>
<text x="622.3" y="629.2" text-anchor="end" font-size="21.0" textLength="24.18" lengthAdjust="spacingAndGlyphs">10</text>
<text x="622.3" y="703.54" text-anchor="end" font-size="21.0" textLength="24.18" lengthAdjust="spacingAndGlyphs">12</text>
<text x="622.3" y="777.88" text-anchor="end" font-size="21.0" textLength="24.18" lengthAdjust="spacingAndGlyphs">14</text>
<text x="622.3" y="852.22" text-anchor="end" font-size="21.0" textLength="24.18" lengthAdjust="spacingAndGlyphs">16</text>
<text x="622.3" y="926.56" text-anchor="end" font-size="21.0" textLength="24.18" lengthAdjust="spacingAndGlyphs">18</text>
<text x="622.3" y="1000.9" text-anchor="end" font-size="21.0" textLength="24.18" lengthAdjust="spacingAndGlyphs">20</text>
<rect x="633.5" y="580.5" width="417" height="420" fill="none" stroke="#000" stroke-width="1.25"/>
<defs><linearGradient id="cbg" x1="0" y1="1" x2="0" y2="0"><stop offset="0.0000" stop-color="#0d0887"/><stop offset="0.0312" stop-color="#220690"/><stop offset="0.0625" stop-color="#310597"/><stop offset="0.0938" stop-color="#3f049c"/><stop offset="0.1250" stop-color="#4c02a1"/><stop offset="0.1562" stop-color="#5901a5"/><stop offset="0.1875" stop-color="#6600a7"/><stop offset="0.2188" stop-color="#7201a8"/><stop offset="0.2500" stop-color="#7e03a8"/><stop offset="0.2812" stop-color="#8a09a5"/><stop offset="0.3125" stop-color="#9511a1"/><stop offset="0.3438" stop-color="#a01a9c"/><stop offset="0.3750" stop-color="#aa2395"/><stop offset="0.4062" stop-color="#b32c8e"/><stop offset="0.4375" stop-color="#bc3587"/><stop offset="0.4688" stop-color="#c43e7f"/><stop offset="0.5000" stop-color="#cc4778"/><stop offset="0.5312" stop-color="#d35171"/><stop offset="0.5625" stop-color="#da5a6a"/><stop offset="0.5938" stop-color="#e06363"/><stop offset="0.6250" stop-color="#e66c5c"/><stop offset="0.6562" stop-color="#eb7655"/><stop offset="0.6875" stop-color="#f0804e"/><stop offset="0.7188" stop-color="#f58b47"/><stop offset="0.7500" stop-color="#f89540"/><stop offset="0.7812" stop-color="#fba139"/><stop offset="0.8125" stop-color="#fdac33"/><stop offset="0.8438" stop-color="#feb82c"/><stop offset="0.8750" stop-color="#fdc527"/><stop offset="0.9062" stop-color="#fcd225"/><stop offset="0.9375" stop-color="#f8df25"/><stop offset="0.9688" stop-color="#f4ed27"/><stop offset="1.0000" stop-color="#f0f921"/></linearGradient></defs>
<rect x="1064.5" y="67.5" width="22.00" height="932.00" fill="url(#cbg)" fill-opacity="0.8"/>
<g stroke="#000">
<line x1="1086.5" y1="999.5" x2="1078.3" y2="999.5" stroke-width="1.05"/>
<line x1="1086.5" y1="962.5" x2="1082.3" y2="962.5" stroke-width="1.05"/>
<line x1="1086.5" y1="924.5" x2="1082.3" y2="924.5" stroke-width="1.05"/>
<line x1="1086.5" y1="887.5" x2="1082.3" y2="887.5" stroke-width="1.05"/>
<line x1="1086.5" y1="850.5" x2="1082.3" y2="850.5" stroke-width="1.05"/>
<line x1="1086.5" y1="813.5" x2="1078.3" y2="813.5" stroke-width="1.05"/>
<line x1="1086.5" y1="775.5" x2="1082.3" y2="775.5" stroke-width="1.05"/>
<line x1="1086.5" y1="738.5" x2="1082.3" y2="738.5" stroke-width="1.05"/>
<line x1="1086.5" y1="701.5" x2="1082.3" y2="701.5" stroke-width="1.05"/>
<line x1="1086.5" y1="664.5" x2="1082.3" y2="664.5" stroke-width="1.05"/>
<line x1="1086.5" y1="626.5" x2="1078.3" y2="626.5" stroke-width="1.05"/>
<line x1="1086.5" y1="589.5" x2="1082.3" y2="589.5" stroke-width="1.05"/>
<line x1="1086.5" y1="552.5" x2="1082.3" y2="552.5" stroke-width="1.05"/>
<line x1="1086.5" y1="515.5" x2="1082.3" y2="515.5" stroke-width="1.05"/>
<line x1="1086.5" y1="477.5" x2="1082.3" y2="477.5" stroke-width="1.05"/>
<line x1="1086.5" y1="440.5" x2="1078.3" y2="440.5" stroke-width="1.05"/>
<line x1="1086.5" y1="403.5" x2="1082.3" y2="403.5" stroke-width="1.05"/>
<line x1="1086.5" y1="365.5" x2="1082.3" y2="365.5" stroke-width="1.05"/>
<line x1="1086.5" y1="328.5" x2="1082.3" y2="328.5" stroke-width="1.05"/>
<line x1="1086.5" y1="291.5" x2="1082.3" y2="291.5" stroke-width="1.05"/>
<line x1="1086.5" y1="254.5" x2="1078.3" y2="254.5" stroke-width="1.05"/>
<line x1="1086.5" y1="216.5" x2="1082.3" y2="216.5" stroke-width="1.05"/>
<line x1="1086.5" y1="179.5" x2="1082.3" y2="179.5" stroke-width="1.05"/>
<line x1="1086.5" y1="142.5" x2="1082.3" y2="142.5" stroke-width="1.05"/>
<line x1="1086.5" y1="105.5" x2="1082.3" y2="105.5" stroke-width="1.05"/>
<line x1="1086.5" y1="67.5" x2="1078.3" y2="67.5" stroke-width="1.05"/>
</g>
<text x="1096" y="1007" text-anchor="start" font-size="21.0" textLength="30.22" lengthAdjust="spacingAndGlyphs">0.5</text>
<text x="1096" y="820.7" text-anchor="start" font-size="21.0" textLength="30.22" lengthAdjust="spacingAndGlyphs">0.6</text>
<text x="1096" y="634.4" text-anchor="start" font-size="21.0" textLength="30.22" lengthAdjust="spacingAndGlyphs">0.7</text>
<text x="1096" y="448.1" text-anchor="start" font-size="21.0" textLength="30.22" lengthAdjust="spacingAndGlyphs">0.8</text>
<text x="1096" y="261.8" text-anchor="start" font-size="21.0" textLength="30.22" lengthAdjust="spacingAndGlyphs">0.9</text>
<text x="1096" y="75.5" text-anchor="start" font-size="21.0" textLength="30.22" lengthAdjust="spacingAndGlyphs">1.0</text>
<rect x="1064.5" y="67.5" width="22.00" height="932.00" fill="none" stroke="#000" stroke-width="1.25"/>
<text x="304.3" y="546.8" text-anchor="middle" font-size="20.8" textLength="117.66" lengthAdjust="spacingAndGlyphs">GLON [deg]</text>
<text x="841.5" y="547" text-anchor="middle" font-size="20.8" textLength="145.90" lengthAdjust="spacingAndGlyphs">pmRA [mas/yr]</text>
<text x="305" y="1054.8" text-anchor="middle" font-size="20.8" textLength="90.48" lengthAdjust="spacingAndGlyphs">Plx [mas]</text>
<text x="842" y="1054.8" text-anchor="middle" font-size="20.8" textLength="122.87" lengthAdjust="spacingAndGlyphs">BP-RP [mag]</text>
<text transform="translate(22.6,286.7) rotate(-90)" text-anchor="middle" font-size="20.8" textLength="110.74" lengthAdjust="spacingAndGlyphs">GLAT [deg]</text>
<text transform="translate(559,285.2) rotate(-90)" text-anchor="middle" font-size="20.8" textLength="146.99" lengthAdjust="spacingAndGlyphs">pmDE [mas/yr]</text>
<text transform="translate(45.8,792.5) rotate(-90)" text-anchor="middle" font-size="20.8" textLength="78.37" lengthAdjust="spacingAndGlyphs">G [mag]</text>
<text transform="translate(581.8,792.5) rotate(-90)" text-anchor="middle" font-size="20.8" textLength="78.37" lengthAdjust="spacingAndGlyphs">G [mag]</text>
<text x="529.6" y="26.8" text-anchor="middle" font-size="23.8" textLength="143.34" lengthAdjust="spacingAndGlyphs">UCC (N=28)</text>
</svg>
</body></html>
